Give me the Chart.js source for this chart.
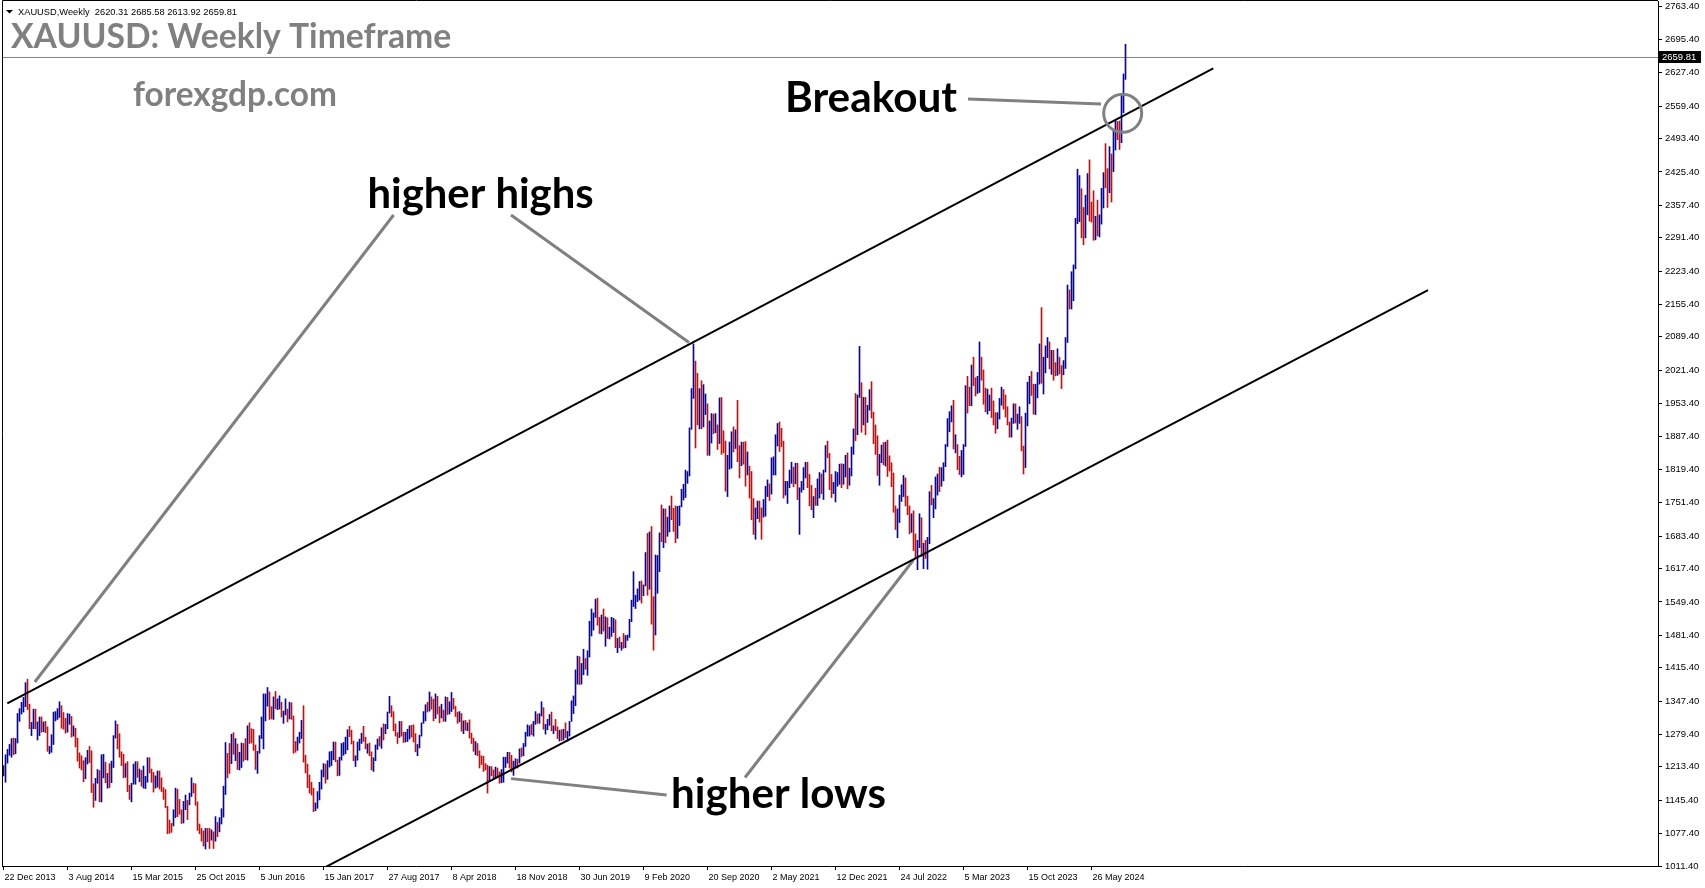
<!DOCTYPE html>
<html>
<head>
<meta charset="utf-8">
<title>XAUUSD Weekly</title>
<script src="https://cdn.jsdelivr.net/npm/chart.js@4.4.1/dist/chart.umd.min.js"></script>
<style>
  html, body { margin: 0; padding: 0; background: #fff; overflow: hidden; }
  canvas { display: block; }
</style>
</head>
<body>
<canvas id="goldChart" width="1705" height="888"></canvas>
<script>
// weekly XAUUSD bars, first week = 22 Dec 2013, one bar per week
const symbolName = "XAUUSD,Weekly";
const firstOpen = 1198;
const lastQuote = [2620.31, 2685.58, 2613.92, 2659.81]; // open high low close of the last bar

const weekHigh = [
  // 2013
  1216, 1238,
  // 2014
  1249, 1259, 1271, 1272, 1271, 1322, 1332, 1345, 1355, 1385, 1392, 1341, 1304, 1331, 1331, 1305, 1315, 1315, 1305, 1306, 1295, 1255, 1279, 1325, 1326, 1332,
  1346, 1338, 1324, 1312, 1322, 1321, 1316, 1297, 1292, 1272, 1242, 1236, 1226, 1232, 1247, 1255, 1246, 1179, 1190, 1208, 1206, 1238, 1239, 1223, 1200, 1220,
  // 2015
  1225, 1277, 1307, 1300, 1281, 1244, 1239, 1220, 1224, 1176, 1180, 1219, 1224, 1224, 1209, 1206, 1215, 1194, 1232, 1232, 1209, 1202, 1195, 1205, 1205, 1191,
  1171, 1167, 1133, 1105, 1098, 1126, 1170, 1168, 1147, 1126, 1143, 1156, 1145, 1160, 1191, 1180, 1179, 1142, 1097, 1088, 1083, 1088, 1088, 1088, 1085, 1081,
  // 2016
  1112, 1100, 1110, 1128, 1174, 1263, 1241, 1261, 1280, 1283, 1271, 1260, 1243, 1262, 1261, 1271, 1297, 1303, 1291, 1290, 1258, 1245, 1277, 1315, 1362, 1362,
  1375, 1366, 1336, 1356, 1367, 1352, 1358, 1345, 1327, 1352, 1331, 1345, 1344, 1317, 1265, 1274, 1284, 1308, 1338, 1237, 1219, 1197, 1182, 1170, 1140, 1163,
  // 2017
  1182, 1207, 1220, 1219, 1226, 1244, 1245, 1264, 1264, 1227, 1233, 1261, 1263, 1274, 1289, 1296, 1288, 1266, 1236, 1264, 1270, 1282, 1296, 1274, 1260, 1262,
  1244, 1232, 1258, 1270, 1275, 1293, 1301, 1300, 1325, 1357, 1338, 1326, 1301, 1283, 1306, 1306, 1284, 1284, 1290, 1297, 1298, 1299, 1281, 1259, 1278, 1303, 1326,
  // 2018
  1340, 1345, 1366, 1356, 1351, 1362, 1357, 1336, 1341, 1329, 1356, 1355, 1346, 1365, 1353, 1337, 1325, 1326, 1322, 1307, 1308, 1303, 1309, 1282, 1272, 1265,
  1261, 1246, 1236, 1235, 1220, 1217, 1214, 1214, 1207, 1213, 1211, 1203, 1208, 1233, 1233, 1243, 1243, 1237, 1225, 1230, 1229, 1250, 1252, 1261, 1284, 1299,
  // 2019
  1297, 1300, 1306, 1326, 1321, 1322, 1346, 1334, 1300, 1310, 1320, 1325, 1297, 1310, 1295, 1288, 1289, 1290, 1303, 1286, 1306, 1348, 1358, 1411, 1439, 1438,
  1424, 1453, 1434, 1450, 1510, 1535, 1527, 1555, 1557, 1518, 1523, 1535, 1519, 1517, 1498, 1518, 1516, 1513, 1475, 1478, 1467, 1485, 1481, 1482, 1514, 1553,
  // 2020
  1611, 1563, 1576, 1591, 1592, 1584, 1650, 1689, 1692, 1703, 1560, 1645, 1644, 1690, 1747, 1739, 1739, 1722, 1745, 1765, 1740, 1745, 1744, 1745, 1779, 1789,
  1818, 1815, 1904, 1984, 2075, 2040, 2015, 1984, 2000, 1992, 1973, 1953, 1918, 1933, 1932, 1933, 1910, 1965, 1966, 1898, 1877, 1848, 1875, 1896, 1906, 1900,
  // 2021
  1960, 1868, 1875, 1875, 1876, 1855, 1826, 1815, 1760, 1741, 1755, 1755, 1741, 1758, 1785, 1798, 1790, 1843, 1845, 1890, 1913, 1916, 1903, 1877, 1795, 1795,
  1818, 1834, 1824, 1832, 1832, 1782, 1795, 1823, 1834, 1834, 1809, 1787, 1764, 1781, 1800, 1813, 1810, 1818, 1868, 1877, 1852, 1809, 1793, 1815, 1813, 1830,
  // 2022
  1831, 1830, 1848, 1853, 1822, 1865, 1902, 1974, 1971, 2070, 1996, 1966, 1966, 1950, 1982, 1998, 1936, 1910, 1888, 1850, 1869, 1874, 1875, 1879, 1847, 1833,
  1812, 1745, 1739, 1767, 1788, 1807, 1802, 1765, 1745, 1729, 1735, 1688, 1675, 1729, 1721, 1669, 1675, 1681, 1774, 1787, 1760, 1804, 1810, 1824, 1823, 1833,
  // 2023
  1870, 1923, 1937, 1949, 1960, 1890, 1870, 1846, 1858, 1870, 1990, 2009, 1987, 2032, 2048, 2006, 2009, 2079, 2048, 2022, 1985, 1983, 1971, 1985, 1959, 1935,
  1935, 1964, 1987, 1982, 1971, 1947, 1916, 1924, 1953, 1953, 1932, 1947, 1927, 1867, 1934, 1997, 2009, 2019, 1993, 1993, 2017, 2075, 2149, 2048, 2071, 2088, 2079,
  // 2024
  2062, 2062, 2037, 2065, 2048, 2031, 2041, 2088, 2195, 2185, 2222, 2236, 2331, 2431, 2418, 2391, 2353, 2378, 2422, 2450, 2364, 2387, 2335, 2368, 2338, 2392,
  2424, 2483, 2432, 2477, 2462, 2509, 2531, 2528, 2529, 2582, 2625, 2685.58
];

const weekLow = [
  // 2013
  1195, 1182,
  // 2014
  1221, 1237, 1233, 1238, 1240, 1262, 1306, 1321, 1325, 1336, 1330, 1291, 1277, 1291, 1291, 1268, 1277, 1284, 1285, 1283, 1245, 1240, 1243, 1259, 1307, 1310,
  1314, 1292, 1290, 1282, 1284, 1300, 1274, 1276, 1254, 1225, 1211, 1207, 1183, 1189, 1219, 1222, 1161, 1131, 1145, 1180, 1142, 1142, 1191, 1181, 1170, 1171,
  // 2015
  1181, 1212, 1272, 1250, 1233, 1216, 1191, 1192, 1163, 1147, 1142, 1178, 1178, 1192, 1183, 1174, 1170, 1169, 1182, 1201, 1182, 1162, 1170, 1172, 1168, 1163,
  1147, 1130, 1077, 1078, 1080, 1093, 1110, 1112, 1117, 1098, 1099, 1126, 1106, 1136, 1153, 1160, 1135, 1084, 1077, 1062, 1052, 1046, 1061, 1047, 1064, 1047,
  // 2016
  1062, 1071, 1081, 1097, 1111, 1157, 1191, 1200, 1220, 1239, 1226, 1208, 1207, 1212, 1225, 1228, 1227, 1261, 1262, 1247, 1208, 1200, 1241, 1271, 1250, 1307,
  1337, 1310, 1311, 1310, 1332, 1330, 1331, 1315, 1302, 1319, 1305, 1311, 1310, 1241, 1243, 1247, 1262, 1271, 1223, 1201, 1171, 1160, 1156, 1122, 1124, 1129,
  // 2017
  1146, 1168, 1193, 1180, 1188, 1213, 1216, 1228, 1224, 1195, 1196, 1227, 1237, 1240, 1248, 1275, 1260, 1226, 1214, 1227, 1247, 1261, 1265, 1250, 1241, 1236,
  1207, 1204, 1226, 1249, 1256, 1251, 1268, 1281, 1291, 1323, 1315, 1287, 1276, 1261, 1273, 1276, 1263, 1264, 1265, 1270, 1274, 1264, 1244, 1236, 1252, 1276, 1302,
  // 2018
  1307, 1325, 1327, 1331, 1307, 1312, 1321, 1303, 1313, 1306, 1306, 1320, 1321, 1326, 1331, 1316, 1302, 1305, 1286, 1281, 1288, 1287, 1272, 1261, 1245, 1238,
  1236, 1211, 1218, 1204, 1207, 1160, 1183, 1195, 1187, 1191, 1192, 1180, 1181, 1182, 1212, 1221, 1211, 1203, 1196, 1213, 1211, 1221, 1234, 1236, 1255, 1276,
  // 2019
  1276, 1279, 1276, 1300, 1302, 1302, 1317, 1290, 1280, 1289, 1298, 1287, 1281, 1287, 1271, 1266, 1267, 1268, 1273, 1266, 1276, 1306, 1322, 1338, 1382, 1381,
  1382, 1401, 1412, 1400, 1437, 1480, 1492, 1518, 1502, 1485, 1484, 1490, 1459, 1475, 1474, 1479, 1487, 1456, 1446, 1456, 1451, 1455, 1456, 1471, 1477, 1509,
  // 2020
  1540, 1536, 1550, 1553, 1547, 1562, 1582, 1563, 1575, 1504, 1451, 1482, 1567, 1611, 1672, 1660, 1670, 1683, 1692, 1717, 1693, 1670, 1679, 1705, 1743, 1757,
  1762, 1791, 1806, 1901, 1964, 1863, 1910, 1902, 1902, 1906, 1931, 1848, 1848, 1873, 1892, 1894, 1860, 1872, 1850, 1853, 1775, 1764, 1820, 1822, 1855, 1862,
  // 2021
  1835, 1802, 1827, 1830, 1785, 1808, 1761, 1717, 1687, 1677, 1719, 1712, 1677, 1722, 1724, 1764, 1756, 1769, 1808, 1808, 1867, 1856, 1866, 1761, 1767, 1750,
  1782, 1791, 1784, 1790, 1758, 1687, 1773, 1778, 1802, 1782, 1745, 1737, 1721, 1746, 1746, 1761, 1770, 1758, 1814, 1843, 1778, 1762, 1770, 1753, 1785, 1789,
  // 2022
  1782, 1789, 1804, 1780, 1787, 1806, 1850, 1878, 1890, 1966, 1895, 1910, 1890, 1915, 1940, 1924, 1872, 1850, 1807, 1787, 1833, 1829, 1826, 1805, 1816, 1784,
  1732, 1697, 1680, 1711, 1754, 1764, 1745, 1727, 1688, 1691, 1654, 1639, 1615, 1660, 1642, 1617, 1638, 1616, 1668, 1747, 1721, 1739, 1767, 1774, 1785, 1796,
  // 2023
  1825, 1866, 1896, 1916, 1861, 1853, 1819, 1809, 1804, 1809, 1866, 1934, 1949, 1949, 1990, 1969, 1974, 1976, 2001, 1952, 1937, 1932, 1939, 1925, 1910, 1893,
  1902, 1922, 1950, 1942, 1926, 1910, 1885, 1885, 1913, 1914, 1901, 1913, 1857, 1810, 1823, 1908, 1953, 1970, 1932, 1931, 1965, 1993, 1995, 1973, 2016, 2047, 2024,
  // 2024
  2013, 2001, 2010, 2011, 2014, 1984, 2012, 2025, 2078, 2146, 2146, 2163, 2228, 2320, 2324, 2291, 2277, 2291, 2338, 2325, 2323, 2286, 2287, 2295, 2293, 2319,
  2352, 2393, 2353, 2383, 2364, 2426, 2470, 2491, 2471, 2485, 2546, 2613.92
];

const weekClose = [
  // 2013
  1213, 1238,
  // 2014
  1248, 1253, 1264, 1240, 1263, 1318, 1323, 1326, 1339, 1379, 1335, 1294, 1303, 1318, 1293, 1300, 1302, 1290, 1293, 1292, 1245, 1252, 1274, 1316, 1316, 1320,
  1338, 1310, 1308, 1294, 1311, 1314, 1280, 1287, 1268, 1231, 1216, 1215, 1192, 1222, 1238, 1231, 1171, 1169, 1186, 1196, 1167, 1190, 1222, 1195, 1195, 1189,
  // 2015
  1217, 1277, 1293, 1279, 1234, 1228, 1204, 1213, 1167, 1152, 1182, 1199, 1219, 1204, 1204, 1178, 1178, 1188, 1225, 1205, 1190, 1173, 1180, 1201, 1173, 1168,
  1157, 1132, 1096, 1095, 1094, 1113, 1160, 1134, 1121, 1104, 1137, 1145, 1137, 1156, 1177, 1163, 1141, 1088, 1081, 1076, 1056, 1086, 1075, 1066, 1076, 1061,
  // 2016
  1104, 1090, 1097, 1118, 1174, 1239, 1228, 1222, 1259, 1250, 1254, 1221, 1221, 1243, 1235, 1232, 1291, 1290, 1273, 1252, 1213, 1243, 1275, 1299, 1322, 1339,
  1366, 1327, 1323, 1350, 1335, 1335, 1341, 1320, 1326, 1328, 1310, 1338, 1316, 1257, 1251, 1267, 1276, 1305, 1226, 1210, 1184, 1177, 1160, 1133, 1133, 1151,
  // 2017
  1173, 1196, 1204, 1190, 1220, 1234, 1238, 1256, 1226, 1204, 1229, 1245, 1248, 1253, 1285, 1284, 1268, 1228, 1228, 1254, 1268, 1279, 1266, 1254, 1256, 1242,
  1212, 1228, 1255, 1269, 1258, 1290, 1284, 1291, 1324, 1346, 1320, 1297, 1279, 1275, 1304, 1280, 1266, 1269, 1274, 1293, 1288, 1280, 1248, 1257, 1276, 1303, 1322,
  // 2018
  1338, 1333, 1350, 1337, 1316, 1356, 1330, 1323, 1324, 1313, 1349, 1325, 1332, 1344, 1336, 1323, 1314, 1318, 1292, 1302, 1294, 1299, 1279, 1270, 1252, 1256,
  1241, 1231, 1223, 1214, 1211, 1184, 1206, 1201, 1196, 1201, 1199, 1192, 1203, 1222, 1226, 1235, 1233, 1209, 1222, 1223, 1222, 1248, 1238, 1257, 1279, 1286,
  // 2019
  1290, 1282, 1304, 1318, 1314, 1322, 1328, 1294, 1299, 1302, 1313, 1292, 1292, 1290, 1275, 1286, 1280, 1286, 1277, 1284, 1305, 1341, 1341, 1399, 1409, 1400,
  1416, 1426, 1419, 1440, 1497, 1513, 1527, 1529, 1506, 1488, 1517, 1497, 1505, 1489, 1490, 1505, 1514, 1459, 1468, 1462, 1464, 1460, 1476, 1478, 1511, 1552,
  // 2020
  1557, 1557, 1571, 1589, 1570, 1584, 1643, 1585, 1674, 1530, 1498, 1617, 1620, 1683, 1682, 1728, 1700, 1702, 1743, 1735, 1730, 1684, 1730, 1743, 1771, 1774,
  1799, 1810, 1902, 1975, 2035, 1944, 1940, 1964, 1933, 1941, 1950, 1861, 1900, 1930, 1899, 1902, 1879, 1951, 1889, 1871, 1788, 1839, 1839, 1882, 1877, 1895,
  // 2021
  1850, 1828, 1855, 1847, 1814, 1823, 1784, 1734, 1700, 1720, 1745, 1733, 1728, 1744, 1777, 1777, 1769, 1831, 1844, 1881, 1904, 1891, 1877, 1764, 1781, 1787,
  1808, 1812, 1802, 1814, 1763, 1780, 1781, 1818, 1827, 1787, 1754, 1750, 1761, 1757, 1768, 1796, 1783, 1818, 1864, 1846, 1788, 1783, 1783, 1798, 1808, 1828,
  // 2022
  1797, 1817, 1835, 1791, 1808, 1858, 1898, 1889, 1970, 1988, 1921, 1958, 1925, 1946, 1974, 1931, 1896, 1883, 1811, 1846, 1853, 1850, 1871, 1840, 1827, 1811,
  1742, 1703, 1727, 1766, 1775, 1802, 1747, 1738, 1712, 1717, 1675, 1644, 1661, 1695, 1644, 1656, 1644, 1681, 1771, 1751, 1754, 1797, 1797, 1793, 1798, 1824,
  // 2023
  1865, 1920, 1926, 1928, 1865, 1865, 1842, 1811, 1855, 1868, 1989, 1978, 1969, 2008, 2004, 1983, 1990, 2017, 2011, 1978, 1946, 1948, 1961, 1958, 1921, 1919,
  1925, 1955, 1962, 1959, 1943, 1914, 1889, 1914, 1940, 1919, 1924, 1925, 1866, 1833, 1932, 1981, 2006, 1993, 1939, 1981, 2002, 2072, 2005, 2019, 2053, 2063, 2045,
  // 2024
  2049, 2029, 2018, 2039, 2024, 2013, 2035, 2083, 2179, 2155, 2165, 2229, 2329, 2343, 2391, 2337, 2301, 2360, 2415, 2334, 2327, 2293, 2333, 2321, 2326, 2392,
  2411, 2400, 2387, 2443, 2431, 2507, 2512, 2503, 2497, 2577, 2621, 2659.81
];

// date labels on the time axis (week index from 22 Dec 2013)
const dateTicks = [0, 32, 64, 96, 128, 160, 192, 224, 256, 288, 320, 352, 384, 416, 448, 480, 512, 544];
const dateLabels = ["22 Dec 2013", "3 Aug 2014", "15 Mar 2015", "25 Oct 2015", "5 Jun 2016", "15 Jan 2017", "27 Aug 2017",
  "8 Apr 2018", "18 Nov 2018", "30 Jun 2019", "9 Feb 2020", "20 Sep 2020", "2 May 2021", "12 Dec 2021", "24 Jul 2022",
  "5 Mar 2023", "15 Oct 2023", "26 May 2024"];

const priceTicks = [2763.40, 2695.40, 2627.40, 2559.40, 2493.40, 2425.40, 2357.40, 2291.40, 2223.40, 2155.40, 2089.40,
  2021.40, 1953.40, 1887.40, 1819.40, 1751.40, 1683.40, 1617.40, 1549.40, 1481.40, 1415.40, 1347.40, 1279.40, 1213.40,
  1145.40, 1077.40, 1011.40];

// trend lines and pointers, as [week index, price]
const upperChannel = [[1.9, 1342.5], [604.9, 2636.5]];
const lowerChannel = [[161.05, 1009.3], [712.25, 2184.8]];
const pointerLines = [
  [[195.05, 2337.6], [15.65, 1386.2]],   // higher highs -> 2014 top
  [[253.75, 2337.6], [342.75, 2077.9]],  // higher highs -> 2020 top
  [[331.55, 1156.0], [253.75, 1189.4]],  // higher lows -> 2018 low
  [[370.75, 1191.7], [455.0, 1634.8]],   // higher lows -> 2022 low
  [[482.25, 2574.0], [548.75, 2563.8]]   // breakout
];
const breakoutRing = [559.6, 2544.8];

const upColor = "#0000cc";
const downColor = "#e60000";

const bars = weekHigh.map((h, i) => ({ x: i, y: [weekLow[i], h] }));
const barColors = weekClose.map((c, i) => c >= (i ? weekClose[i - 1] : firstOpen) ? upColor : downColor);

const toPoints = seg => seg.map(p => ({ x: p[0], y: p[1] }));

function fitFont(ctx, text, width, weight, family) {
  ctx.font = weight + " 100px " + family;
  const size = 100 * width / ctx.measureText(text).width;
  return weight + " " + size.toFixed(1) + "px " + family;
}

const notes = [
  { text: "higher highs", at: [182.0, 2352.8], width: 226 },
  { text: "Breakout", at: [390.75, 2547.3], width: 172 },
  { text: "higher lows", at: [333.75, 1130.5], width: 215 }
];

const chartDecor = {
  id: "chartDecor",
  beforeDatasetsDraw(chart) {
    const { ctx, chartArea: a, scales: { y } } = chart;
    const py = Math.round(y.getPixelForValue(lastQuote[3])) + 0.5;
    ctx.save();
    ctx.strokeStyle = "#778899";
    ctx.lineWidth = 1;
    ctx.beginPath();
    ctx.moveTo(a.left, py);
    ctx.lineTo(a.right, py);
    ctx.stroke();
    ctx.restore();
  },
  afterDraw(chart) {
    const { ctx, chartArea: a, scales: { x, y } } = chart;
    ctx.save();

    // frame
    ctx.strokeStyle = "#000";
    ctx.lineWidth = 1;
    ctx.beginPath();
    ctx.moveTo(a.left + 0.5, a.bottom);
    ctx.lineTo(a.left + 0.5, a.top - 0.5);
    ctx.lineTo(a.right, a.top - 0.5);
    ctx.stroke();

    // last price box
    const py = Math.round(y.getPixelForValue(lastQuote[3]));
    ctx.fillStyle = "#000";
    ctx.fillRect(a.right + 1, py - 6, 42, 12);
    ctx.fillStyle = "#fff";
    ctx.font = "9.5px 'Liberation Sans', Arial, sans-serif";
    ctx.textBaseline = "middle";
    ctx.fillText(lastQuote[3].toFixed(2), a.right + 4, py + 0.5);

    // header line
    ctx.fillStyle = "#000";
    ctx.beginPath();
    ctx.moveTo(a.left + 4, a.top + 9);
    ctx.lineTo(a.left + 11, a.top + 9);
    ctx.lineTo(a.left + 7.5, a.top + 12.5);
    ctx.closePath();
    ctx.fill();
    const info = symbolName + "  " + lastQuote.map(v => v.toFixed(2)).join(" ");
    ctx.textBaseline = "alphabetic";
    ctx.font = fitFont(ctx, info, 219, "normal", "'Liberation Sans', Arial, sans-serif");
    ctx.fillText(info, a.left + 16, a.top + 14);

    // title and site name
    ctx.fillStyle = "#808080";
    const title = "XAUUSD: Weekly Timeframe";
    ctx.font = fitFont(ctx, title, 440, "bold", "Lato, 'Open Sans', sans-serif");
    ctx.fillText(title, a.left + 9, a.top + 47);
    const site = "forexgdp.com";
    ctx.font = fitFont(ctx, site, 204, "bold", "Lato, 'Open Sans', sans-serif");
    ctx.fillText(site, a.left + 131, a.top + 105);

    // ring round the breakout
    ctx.strokeStyle = "#808080";
    ctx.lineWidth = 3;
    ctx.beginPath();
    ctx.arc(x.getPixelForValue(breakoutRing[0]), y.getPixelForValue(breakoutRing[1]), 19, 0, Math.PI * 2);
    ctx.stroke();

    // notes
    ctx.fillStyle = "#000";
    notes.forEach(n => {
      ctx.font = fitFont(ctx, n.text, n.width, "bold", "Lato, 'Open Sans', sans-serif");
      ctx.fillText(n.text, x.getPixelForValue(n.at[0]), y.getPixelForValue(n.at[1]));
    });
    ctx.restore();
  }
};

const lineSet = (seg, color, width) => ({
  type: "line",
  data: toPoints(seg),
  borderColor: color,
  borderWidth: width,
  pointRadius: 0,
  tension: 0,
  fill: false,
  order: 1
});

const axisFont = { family: "'Liberation Sans', Arial, sans-serif", size: 9 };

new Chart(document.getElementById("goldChart"), {
  type: "bar",
  data: {
    datasets: [
      {
        type: "bar",
        data: bars,
        backgroundColor: barColors,
        borderWidth: 0,
        barThickness: 1,
        order: 5
      },
      lineSet(upperChannel, "#000", 2),
      lineSet(lowerChannel, "#000", 2),
      ...pointerLines.map(seg => lineSet(seg, "#808080", 3))
    ]
  },
  options: {
    responsive: false,
    animation: false,
    devicePixelRatio: 1,
    layout: { padding: { left: 2, top: 1, right: 0, bottom: 0 } },
    plugins: {
      legend: { display: false },
      tooltip: { enabled: false }
    },
    scales: {
      x: {
        type: "linear",
        min: -0.75,
        max: 827.25,
        offset: false,
        grid: { display: true, drawOnChartArea: false, drawTicks: true, tickLength: 4, color: "#000", offset: false },
        border: { display: true, color: "#000" },
        ticks: {
          autoSkip: false,
          maxRotation: 0,
          align: "start",
          labelOffset: 1,
          padding: 2,
          color: "#000",
          font: axisFont,
          callback: v => dateLabels[dateTicks.indexOf(v)]
        },
        afterBuildTicks: s => { s.ticks = dateTicks.map(v => ({ value: v })); },
        afterFit: s => { s.height = 22; s.paddingLeft = 0; s.paddingRight = 0; }
      },
      y: {
        type: "linear",
        position: "right",
        min: 1011.4,
        max: 2773.6,
        grid: { display: true, drawOnChartArea: false, drawTicks: true, tickLength: 4, color: "#000" },
        border: { display: true, color: "#000" },
        ticks: {
          autoSkip: false,
          padding: 3,
          color: "#000",
          font: { family: "'Liberation Sans', Arial, sans-serif", size: 9.5 },
          callback: v => v.toFixed(2)
        },
        afterBuildTicks: s => { s.ticks = priceTicks.map(v => ({ value: v })); },
        afterFit: s => { s.width = 47; s.paddingTop = 0; s.paddingBottom = 0; }
      }
    }
  },
  plugins: [chartDecor]
});
</script>
</body>
</html>
